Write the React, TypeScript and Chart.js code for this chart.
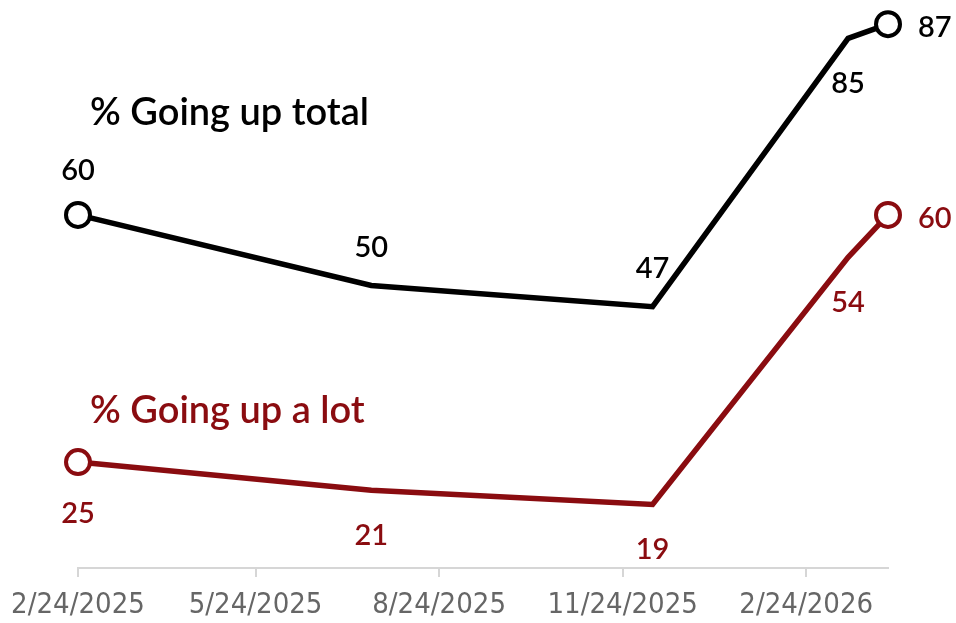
import { useEffect, useRef } from "react";
import { Chart, registerables } from "chart.js";

Chart.register(...registerables);

const START = Date.UTC(2025, 1, 24);
const DAY = 86400000;
const toDays = (iso: string) => Math.round((Date.parse(iso + "T00:00:00Z") - START) / DAY);

const surveyDates = ["2025-02-24", "2025-07-21", "2025-12-09", "2026-03-17", "2026-04-06"];
const goingUpTotal = [60, 50, 47, 85, 87];
const goingUpALot = [25, 21, 19, 54, 60];
const tickDates = ["2025-02-24", "2025-05-24", "2025-08-24", "2025-11-24", "2026-02-24"];
const tickLabels = ["2/24/2025", "5/24/2025", "8/24/2025", "11/24/2025", "2/24/2026"];

const BLACK = "#000000";
const RED = "#8a0c10";
const LABEL_FONT = "600 29px Lato, 'Noto Sans', sans-serif";

// where each value label sits relative to its point
const totalPlacement = ["above", "above", "above", "below", "right"];
const aLotPlacement = ["below", "below", "below", "below", "right"];

const seriesNotes = [
	{ text: "% Going up total", day: 6, value: 72.7, color: BLACK },
	{ text: "% Going up a lot", day: 6, value: 30.5, color: RED },
];

const labelsPlugin = {
	id: "valueLabels",
	afterDatasetsDraw(chart: any) {
		const { ctx } = chart;
		ctx.save();
		ctx.font = LABEL_FONT;
		ctx.textBaseline = "alphabetic";
		chart.data.datasets.forEach((ds: any, di: number) => {
			const meta = chart.getDatasetMeta(di);
			const placement = ds.placement as string[];
			ctx.fillStyle = ds.borderColor;
			meta.data.forEach((pt: any, i: number) => {
				const r = (ds.pointRadius as number[])[i] > 0 ? 6 : 0;
				const where = placement[i];
				let x = pt.x;
				let y = pt.y;
				ctx.textAlign = "center";
				if (where === "above") y = pt.y - 29 - r;
				else if (where === "below") y = pt.y + 55 + r;
				else {
					ctx.textAlign = "left";
					x = pt.x + 30;
					y = pt.y + 13;
				}
				ctx.fillText(String(ds.data[i].y), x, y);
			});
		});
		const xs = chart.scales.x;
		const ys = chart.scales.y;
		ctx.font = "600 38px Lato, 'Noto Sans', sans-serif";
		ctx.textAlign = "left";
		seriesNotes.forEach((n) => {
			ctx.fillStyle = n.color;
			ctx.fillText(n.text, xs.getPixelForValue(n.day), ys.getPixelForValue(n.value));
		});
		ctx.restore();
	},
};

export default function App() {
	const canvasRef = useRef<HTMLCanvasElement | null>(null);

	useEffect(() => {
		if (!canvasRef.current) return;
		const days = surveyDates.map(toDays);
		const tickDays = tickDates.map(toDays);
		const endPoint = (n: number) => surveyDates.map((_, i) => (i === 0 || i === n - 1 ? 12 : 0));

		const chart = new Chart(canvasRef.current, {
			type: "line",
			data: {
				datasets: [
					{
						label: "% Going up total",
						data: goingUpTotal.map((v, i) => ({ x: days[i], y: v })),
						borderColor: BLACK,
						borderWidth: 5.5,
						pointRadius: endPoint(goingUpTotal.length),
						pointHoverRadius: endPoint(goingUpTotal.length),
						pointBorderWidth: 4,
						pointBackgroundColor: "#ffffff",
						pointBorderColor: BLACK,
						tension: 0,
						clip: false,
						placement: totalPlacement,
					} as any,
					{
						label: "% Going up a lot",
						data: goingUpALot.map((v, i) => ({ x: days[i], y: v })),
						borderColor: RED,
						borderWidth: 5.5,
						pointRadius: endPoint(goingUpALot.length),
						pointHoverRadius: endPoint(goingUpALot.length),
						pointBorderWidth: 4,
						pointBackgroundColor: "#ffffff",
						pointBorderColor: RED,
						tension: 0,
						clip: false,
						placement: aLotPlacement,
					} as any,
				],
			},
			options: {
				responsive: true,
				maintainAspectRatio: false,
				animation: false,
				layout: { autoPadding: false, padding: { left: 78, right: 68, top: 3, bottom: 0 } },
				plugins: { legend: { display: false }, tooltip: { enabled: false } },
				scales: {
					x: {
						type: "linear",
						min: 0,
						max: days[days.length - 1],
						afterBuildTicks: (scale: any) => {
							scale.ticks = tickDays.map((d) => ({ value: d }));
						},
						afterFit: (scale: any) => {
							scale.height = 55;
						},
						grid: { drawOnChartArea: false, drawTicks: true, tickLength: 9, color: "#d6d6d6", lineWidth: 2 },
						border: { display: true, color: "#d6d6d6", width: 2 },
						ticks: {
							autoSkip: false,
							maxRotation: 0,
							padding: 11,
							color: "#666666",
							font: { family: "'DejaVu Sans Condensed', 'DejaVu Sans', sans-serif", size: 29 },
							callback: (v: any) => {
								const idx = tickDays.indexOf(Number(v));
								return idx >= 0 ? tickLabels[idx] : "";
							},
						},
					},
					y: { display: false, min: 10, max: 90 },
				},
			},
			plugins: [labelsPlugin],
		});

		return () => chart.destroy();
	}, []);

	return (
		<div style={{ position: "fixed", left: 0, top: 0, width: 956, height: 623, background: "#fff" }}>
			<canvas ref={canvasRef} />
		</div>
	);
}
